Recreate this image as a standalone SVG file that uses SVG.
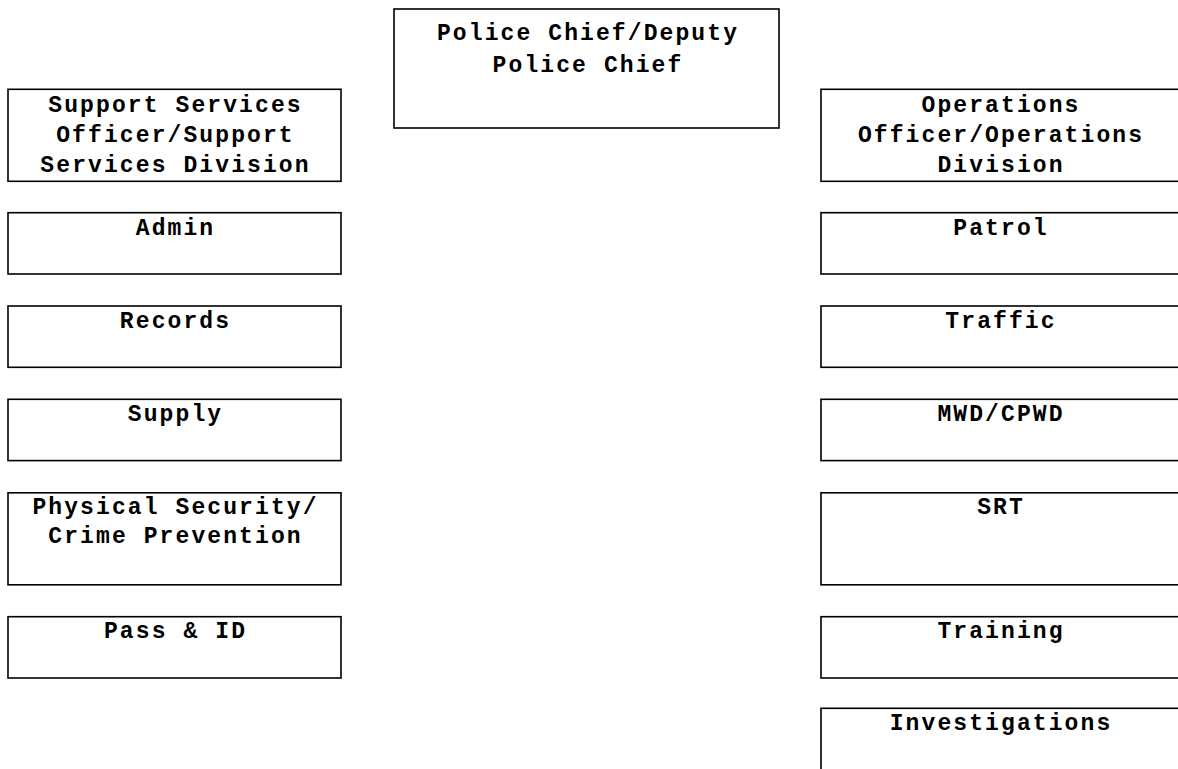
<svg xmlns="http://www.w3.org/2000/svg" width="1178" height="769" viewBox="0 0 1178 769">
<style>
.box{fill:#fff;stroke:#000;stroke-width:1.6}
.t{font-family:"Liberation Mono","Courier New",monospace;font-weight:bold;font-size:23px;letter-spacing:2.1px;fill:#000;text-anchor:middle}
</style>
<rect width="1178" height="769" fill="#fff"/>
<g id="connectors"/>
<g id="chief">
<rect class="box" x="394" y="9" width="385" height="119"/>
<text class="t" x="588" y="39.5">Police Chief/Deputy</text>
<text class="t" x="588" y="71.5">Police Chief</text>
</g>
<g id="support">
<rect class="box" x="8" y="89.3" width="333" height="92"/>
<text class="t" x="175.5" y="111.5">Support Services</text>
<text class="t" x="175.5" y="141.5">Officer/Support</text>
<text class="t" x="175.5" y="171.5">Services Division</text>
</g>
<g id="admin">
<rect class="box" x="8" y="212.7" width="333" height="61.3"/>
<text class="t" x="175.5" y="234.5">Admin</text>
</g>
<g id="records">
<rect class="box" x="8" y="306" width="333" height="61.3"/>
<text class="t" x="175.5" y="327.5">Records</text>
</g>
<g id="supply">
<rect class="box" x="8" y="399.3" width="333" height="61.3"/>
<text class="t" x="175.5" y="420.5">Supply</text>
</g>
<g id="physical">
<rect class="box" x="8" y="492.8" width="333" height="92"/>
<text class="t" x="175.5" y="513.5">Physical Security/</text>
<text class="t" x="175.5" y="543">Crime Prevention</text>
</g>
<g id="pass">
<rect class="box" x="8" y="616.7" width="333" height="61.3"/>
<text class="t" x="175.5" y="638">Pass &amp; ID</text>
</g>
<g id="operations">
<rect class="box" x="821" y="89.3" width="358" height="92"/>
<text class="t" x="1001" y="111.5">Operations</text>
<text class="t" x="1001" y="141.5">Officer/Operations</text>
<text class="t" x="1001" y="171.5">Division</text>
</g>
<g id="patrol">
<rect class="box" x="821" y="212.7" width="358" height="61.3"/>
<text class="t" x="1001" y="234.5">Patrol</text>
</g>
<g id="traffic">
<rect class="box" x="821" y="306" width="358" height="61.3"/>
<text class="t" x="1001" y="327.5">Traffic</text>
</g>
<g id="mwd">
<rect class="box" x="821" y="399.3" width="358" height="61.3"/>
<text class="t" x="1001" y="420.5">MWD/CPWD</text>
</g>
<g id="srt">
<rect class="box" x="821" y="492.8" width="358" height="92"/>
<text class="t" x="1001" y="513.5">SRT</text>
</g>
<g id="training">
<rect class="box" x="821" y="616.7" width="358" height="61.3"/>
<text class="t" x="1001" y="638">Training</text>
</g>
<g id="investigations">
<rect class="box" x="821" y="708.3" width="358" height="92"/>
<text class="t" x="1001" y="730">Investigations</text>
</g>
</svg>
